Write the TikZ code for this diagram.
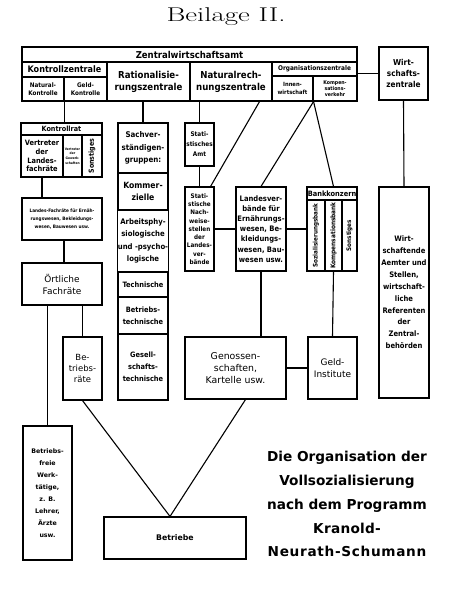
\documentclass[tikz,border=0pt]{standalone}
\usepackage{fontspec}
\newfontfamily\fcond{DejaVu Sans Condensed}
\newfontfamily\freg{DejaVu Sans}
\newfontfamily\fcapa{DejaVu Sans}[LetterSpace=2]
\newfontfamily\fcapb{DejaVu Sans}[LetterSpace=5]
\usetikzlibrary{calc}
\newcommand\fsz[2]{\fontsize{#1}{#2}\selectfont}
\newcommand\cellbox[7][]{%
  \pgfmathsetmacro\cbw{#5-#3}\pgfmathsetmacro\cbh{#6-#4}%
  \pgfmathsetmacro\cbcx{(#3+#5)/2}\pgfmathsetmacro\cbcy{(#4+#6)/2}%
  \node[cell,minimum width=\cbw bp,minimum height=\cbh bp,#1] (#2) at (\cbcx,\cbcy) {#7};}
\tikzset{
  cell/.style={draw,line width=1.1bp,inner sep=0pt,align=center,font=\fcond\bfseries\fsz{7}{9}},
  reg/.style={font=\freg\fsz{9}{12}},
  wire/.style={line width=1.1bp},
  frame/.style={line width=1.6bp}
}
\begin{document}
\begin{tikzpicture}[x=1bp,y=-1bp]
\useasboundingbox (0,0) rectangle (453,599);
\fill[white] (0,0) rectangle (453,599);
\node[font=\fontsize{20}{22}\selectfont] (title) at (226,17) {\scalebox{1.45}[1]{Beilage II.}};
% header
\cellbox[font=\fcond\bfseries\fsz{9.5}{10}]{zwa}{22}{47}{357}{62}{Zentralwirtschaftsamt}
\cellbox[font=\fcond\bfseries\fsz{9}{10}]{kz}{22}{62}{107}{77}{Kontrollzentrale}
\cellbox[font=\fcond\bfseries\fsz{6.3}{7.8}]{natk}{22}{77}{64}{101}{Natural-\\Kontrolle}
\cellbox[font=\fcond\bfseries\fsz{6.3}{7.8}]{geldk}{64}{77}{107}{101}{Geld-\\Kontrolle}
\cellbox[font=\fcond\bfseries\fsz{9.6}{12}]{rat}{107}{62}{190}{101}{Rationalisie-\\rungszentrale}
\cellbox[font=\fcond\bfseries\fsz{9.6}{12}]{natr}{190}{62}{272}{101}{Naturalrech-\\nungszentrale}
\cellbox[font=\fcond\bfseries\fsz{6.5}{7}]{orgz}{272}{62}{357}{76}{Organisationszentrale}
\cellbox[font=\fcond\bfseries\fsz{5.8}{7.2}]{innen}{272}{76}{313}{101}{Innen-\\wirtschaft}
\cellbox[font=\fcond\bfseries\fsz{5.2}{5.9}]{komp}{313}{76}{357}{101}{Kompen-\\sations-\\verkehr}
\draw[frame] (zwa.north west) rectangle (komp.south east);
\cellbox[font=\fcond\bfseries\fsz{8.2}{10.8}]{wz}{379}{47}{428}{100}{Wirt-\\schafts-\\zentrale}
% Kontrollrat
\cellbox[font=\fcond\bfseries\fsz{7.2}{7.5}]{kr}{21}{123}{102}{135}{Kontrollrat}
\cellbox[font=\fcond\bfseries\fsz{7.4}{8.8}]{vlf}{21}{135}{63}{177}{Vertreter\\der\\Landes-\\fachräte}
\cellbox[font=\fcond\bfseries\fsz{3.3}{4.6}]{vgw}{63}{135}{82}{177}{Vertreter\\der\\Gewerk-\\schaften}
\cellbox[font=\fcond\bfseries\fsz{7}{8}]{ksonst}{82}{135}{102}{177}{\rotatebox{90}{Sonstiges}}
\cellbox[font=\fcond\bfseries\fsz{4.7}{8}]{lfr}{22}{198}{102}{240}{Landes-Fachräte für Ernäh-\\rungswesen, Bekleidungs-\\wesen, Bauwesen usw.}
\cellbox[reg]{of}{22}{263}{102}{305}{Örtliche\\Fachräte}
\cellbox[reg,font=\freg\fsz{8.5}{11.5}]{br}{63}{337}{102}{400}{Be-\\triebs-\\räte}
\cellbox[font=\freg\bfseries\fsz{6.3}{12}]{bf}{23}{426}{72}{560}{Betriebs-\\freie\\Werk-\\tätige,\\z. B.\\Lehrer,\\Ärzte\\usw.}
\cellbox[font=\freg\bfseries\fsz{7.8}{9}]{bt}{104}{517}{246}{559}{Betriebe}
% Sachverstaendige
\cellbox[font=\fcond\bfseries\fsz{7.9}{12.5}]{sv1}{118}{123}{168}{173}{Sachver-\\ständigen-\\gruppen:}
\cellbox[font=\fcond\bfseries\fsz{8.6}{12}]{sv2}{118}{173}{168}{210}{Kommer-\\zielle}
\cellbox[font=\fcond\bfseries\fsz{7.7}{12.3}]{sv3}{118}{210}{168}{272}{Arbeitsphy-\\siologische\\und -psycho-\\logische}
\cellbox[font=\fcond\bfseries\fsz{7.4}{12}]{sv4}{118}{272}{168}{297}{Technische}
\cellbox[font=\fcond\bfseries\fsz{7.4}{12}]{sv5}{118}{297}{168}{334}{Betriebs-\\technische}
\cellbox[font=\fcond\bfseries\fsz{7.4}{12}]{sv6}{118}{334}{168}{400}{Gesell-\\schafts-\\technische}
% Statistik
\cellbox[font=\fcond\bfseries\fsz{6.4}{10}]{amt}{185}{123}{214}{166}{Stati-\\stisches\\Amt}
\cellbox[font=\fcond\bfseries\fsz{6.3}{8.3}]{nach}{185}{187}{214}{271}{Stati-\\stische\\Nach-\\weise-\\stellen\\der\\Landes-\\ver-\\bände}
\cellbox[font=\fcond\bfseries\fsz{7.6}{10.2}]{lv}{236}{187}{286}{271}{Landesver-\\bände für\\Ernährungs-\\wesen, Be-\\kleidungs-\\wesen, Bau-\\wesen usw.}
% Bankkonzern
\cellbox[font=\fcond\bfseries\fsz{7.4}{8}]{bkh}{307}{187}{357}{200}{Bankkonzern}
\cellbox[font=\fcond\bfseries\fsz{6.3}{7}]{bs1}{307}{200}{325}{271}{\rotatebox{90}{Sozialisierungsbank}}
\cellbox[font=\fcond\bfseries\fsz{6.5}{7}]{bs2}{325}{200}{342}{271}{\rotatebox{90}{Kompensationsbank}}
\cellbox[font=\fcond\bfseries\fsz{6.3}{7}]{bs3}{342}{200}{357}{271}{\rotatebox{90}{Sonstiges}}
\cellbox[font=\fcond\bfseries\fsz{7.6}{11.9}]{wa}{379}{187}{429}{398}{Wirt-\\schaftende\\Aemter und\\Stellen,\\wirtschaft-\\liche\\Referenten\\der\\Zentral-\\behörden}
\cellbox[reg,font=\freg\fsz{9.4}{12}]{gen}{185}{337}{286}{399}{Genossen-\\schaften,\\Kartelle usw.}
\cellbox[reg]{gi}{308}{337}{357}{399}{Geld-\\Institute}
% connectors
\draw[wire] (wz.west -| zwa.east) -- (wz.west);
\draw[wire] (wz.south) -- (wa.north);
\draw[wire] (natk.south east) -- (natk.south east |- kr.north);
\draw[wire] (sv1.north |- rat.south) -- (sv1.north);
\draw[wire] (amt.north |- natr.south) -- (amt.north);
\draw[wire] (amt.south) -- (nach.north);
\draw[wire] ($(natr.south east)+(-13,0)$) -- ($(nach.north east)+(-4,0)$);
\draw[wire] (innen.south east) -- (lv.north);
\draw[wire] (innen.south east) -- (bs2.north |- bkh.north);
\draw[wire] (nach.east) -- (lv.west);
\draw[wire] (lv.east) -- (bkh.west |- lv.east);
\draw[wire] (vlf.south) -- (vlf.south |- lfr.north);
\draw[wire] ($(lfr.south)+(2,0)$) -- ($(lfr.south |- of.north)+(2,0)$);
\draw[wire] (bf.north |- of.south) -- (bf.north);
\draw[wire] (br.north |- of.south) -- (br.north);
\draw[wire] (br.south) -- ($(bt.north)+(-5,0)$);
\draw[wire] ($(gen.south)+(10,0)$) -- ($(bt.north)+(-5,0)$);
\draw[wire] (lv.south) -- (lv.south |- gen.north);
\draw[wire] (bs2.south) -- (gi.north);
\draw[wire] (gen.east) -- (gi.west);
% caption
\node[font=\freg\bfseries\fsz{13.7}{24},align=center] (cap) at (347,504) {Die Organisation der\\Vollsozialisierung\\nach dem Programm\\{\fcapa\bfseries Kranold-}\\{\fcapb\bfseries Neurath-Schumann}};
\end{tikzpicture}
\end{document}
